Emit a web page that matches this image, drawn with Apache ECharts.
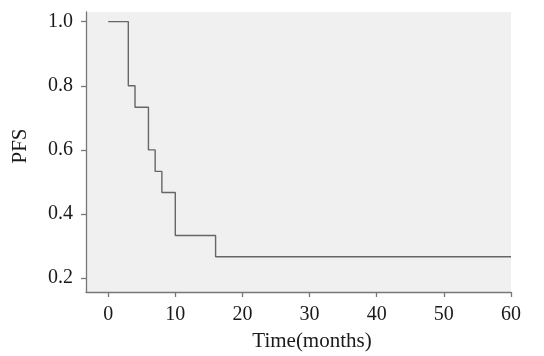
<!DOCTYPE html>
<html><head><meta charset="utf-8">
<script src="https://cdn.jsdelivr.net/npm/echarts@6/dist/echarts.min.js"></script>
<style>html,body{margin:0;padding:0;background:#fff}#c{width:544px;height:356px}</style>
</head><body><div id="c"></div>
<script>
const times = [0, 3, 4, 6, 7, 8, 10, 16, 60];
const pfs = [1.0, 0.8, 0.733, 0.6, 0.533, 0.467, 0.333, 0.267, 0.267];
const xTicks = [0, 10, 20, 30, 40, 50, 60];
const yTicks = [0.2, 0.4, 0.6, 0.8, 1.0];

const font = '"Liberation Serif", "DejaVu Serif", serif';
const chart = echarts.init(document.getElementById('c'));
chart.setOption({
  animation: false,
  grid: { left: 86, top: 12, right: 33, bottom: 64, show: true, backgroundColor: '#f0f0f0', borderWidth: 0 },
  xAxis: {
    type: 'value', min: -3.3, max: 60,
    axisLine: { show: true, onZero: false, lineStyle: { color: '#777', width: 1.3 } },
    axisTick: { show: true, length: 5, customValues: xTicks, lineStyle: { color: '#777', width: 1.3 } },
    axisLabel: { customValues: xTicks, margin: 13, fontFamily: font, fontSize: 20, color: '#1a1a1a', formatter: v => String(v) },
    splitLine: { show: false }
  },
  yAxis: {
    type: 'value', min: 0.157, max: 1.03,
    axisLine: { show: true, onZero: false, lineStyle: { color: '#777', width: 1.3 } },
    axisTick: { show: true, length: 5, customValues: yTicks, lineStyle: { color: '#777', width: 1.3 } },
    axisLabel: { customValues: yTicks, margin: 13, fontFamily: font, fontSize: 20, color: '#1a1a1a', formatter: v => v.toFixed(1) },
    splitLine: { show: false }
  },
  graphic: [
    { type: 'text', x: 312, y: 341, style: { text: 'Time(months)', font: '21px ' + font, fill: '#1a1a1a', align: 'center', verticalAlign: 'middle' } },
    { type: 'text', x: 20, y: 146, rotation: Math.PI / 2, style: { text: 'PFS', font: '21px ' + font, fill: '#1a1a1a', align: 'center', verticalAlign: 'middle' } }
  ],
  series: [{
    type: 'line', step: 'end', showSymbol: false, symbol: 'none',
    lineStyle: { color: '#666', width: 1.4 },
    data: times.map((t, i) => [t, pfs[i]])
  }]
});
</script></body></html>
